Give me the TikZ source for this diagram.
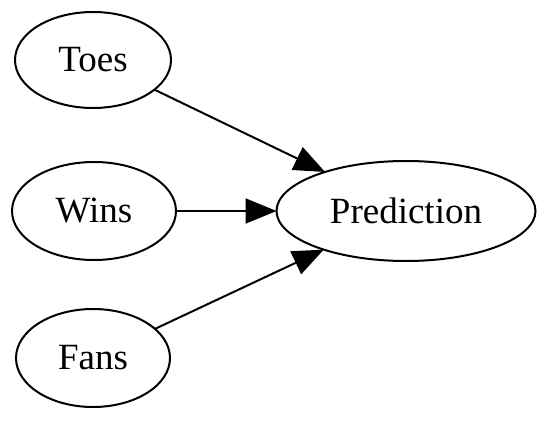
\documentclass[tikz,border=0pt]{standalone}
\usepackage{fontspec}
\setmainfont{Liberation Serif}
\usetikzlibrary{arrows.meta, shapes.geometric}

\begin{document}
\begin{tikzpicture}[x=1pt, y=-1pt, font=\fontsize{37}{40}\selectfont,
  feat/.style={ellipse, draw, line width=2pt, inner sep=0pt, outer sep=0pt},
  edge/.style={draw, line width=2pt, -{Triangle[length=31pt, width=25pt]}}
]
  \useasboundingbox (0,0) rectangle (548,422);
  % ===== inputs =====
  \node[feat, minimum width=156pt, minimum height=96pt] (toes) at (93,60)  {Toes};
  \node[feat, minimum width=164pt, minimum height=98pt] (wins) at (94,211) {Wins};
  \node[feat, minimum width=154pt, minimum height=98pt] (fans) at (93,358) {Fans};
  % ===== output =====
  \node[feat, minimum width=259pt, minimum height=100pt] (pred) at (406,211) {Prediction};
  % ===== edges =====
  \draw[edge] (toes) -- (pred);
  \draw[edge] (wins) -- (pred);
  \draw[edge] (fans) -- (pred);
\end{tikzpicture}
\end{document}
